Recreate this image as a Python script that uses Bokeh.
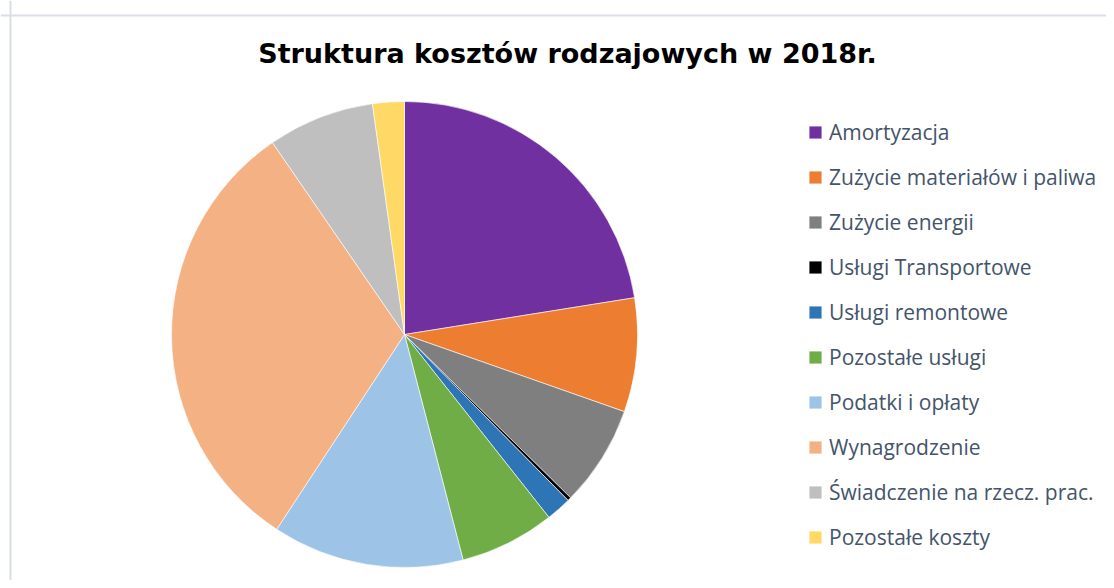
import math
from bokeh.plotting import figure
from bokeh.models import Range1d, Span, Label, Legend, LegendItem
from bokeh.embed import file_html
from bokeh.resources import INLINE

title = "Struktura kosztów rodzajowych w 2018r."
categories = [
    "Amortyzacja",
    "Zużycie materiałów i paliwa",
    "Zużycie energii",
    "Usługi Transportowe",
    "Usługi remontowe",
    "Pozostałe usługi",
    "Podatki i opłaty",
    "Wynagrodzenie",
    "Świadczenie na rzecz. prac.",
    "Pozostałe koszty",
]
shares = [22.5, 7.9, 7.0, 0.25, 1.75, 6.6, 13.3, 31.2, 7.4, 2.2]
colors = ["#7030A0", "#ED7D31", "#7F7F7F", "#000000", "#2E75B6",
          "#70AD47", "#9DC3E6", "#F4B183", "#BFBFBF", "#FFD966"]

W, H = 1106, 580
p = figure(width=W, height=H, output_backend="svg", toolbar_location=None,
           x_range=Range1d(0, W), y_range=Range1d(0, H),
           min_border=0, min_border_left=0, min_border_right=0,
           min_border_top=0, min_border_bottom=0)
p.axis.visible = False
p.grid.visible = False
p.outline_line_color = None
p.background_fill_color = "white"
p.border_fill_color = "white"

# chart-area border (top and left edges visible)
p.add_layout(Span(location=10, dimension="height", line_color="#D9DEE6", line_width=2))
p.add_layout(Span(location=H - 15, dimension="width", line_color="#D9DEE6", line_width=2))

total = sum(shares)
cx, cy, r = 404, H - 334, 233
starts, ends = [], []
acc = 0.0
for v in shares:
    starts.append(math.pi / 2 - 2 * math.pi * acc / total)
    acc += v
    ends.append(math.pi / 2 - 2 * math.pi * acc / total)

renderers = []
for i in range(len(categories)):
    rr = p.wedge(x=cx, y=cy, radius=r, start_angle=starts[i], end_angle=ends[i],
                 direction="clock", fill_color=colors[i], line_color="white", line_width=0.6)
    renderers.append(rr)

legend = Legend(items=[LegendItem(label=c, renderers=[rr]) for c, rr in zip(categories, renderers)],
                location=(807, 29), orientation="vertical",
                glyph_width=16, glyph_height=16, label_standoff=6,
                label_text_font="Open Sans", label_text_font_size="21px",
                label_text_color="#44546A", label_height=20, spacing=17,
                padding=0, margin=0, border_line_color=None, background_fill_alpha=0)
p.add_layout(legend)

p.add_layout(Label(x=567, y=H - 53, text=title, text_align="center", text_baseline="middle",
                   text_font="DejaVu Sans", text_font_style="bold", text_font_size="27px",
                   text_color="black"))

open("out.html", "w").write(file_html(p, INLINE))
